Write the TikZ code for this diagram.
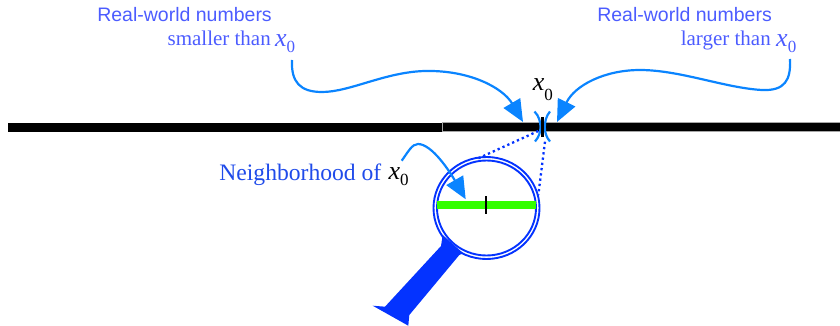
\documentclass[tikz,border=0pt]{standalone}
\usepackage{fontspec}
\setmainfont{Liberation Serif}
\newfontfamily\helv{Liberation Sans}
\usetikzlibrary{arrows.meta}
\definecolor{labelblue}{HTML}{4C5CFF}
\definecolor{nbblue}{HTML}{1F4BEA}
\definecolor{sky}{HTML}{0A84FF}
\definecolor{glass}{HTML}{0433FF}
\definecolor{lime}{HTML}{33FF00}
\newcommand{\xzero}[1]{{\fontsize{26}{26}\selectfont\itshape x}\raisebox{-#1pt}{\fontsize{17}{17}\selectfont 0}}
\tikzset{
  sans/.style={font=\helv\fontsize{19.5}{19.5}\selectfont,text=labelblue,inner sep=0pt,anchor=base east},
  serifl/.style={font=\fontsize{21}{21}\selectfont,text=labelblue,inner sep=0pt,anchor=base east},
  sym/.style={inner sep=0pt,anchor=base west},
  curve/.style={draw=sky,line width=2.2pt,-{Triangle[length=22pt,width=19pt]}},
  dots/.style={draw=glass,line width=2.3pt,dash pattern=on 2.3pt off 3pt},
  ring/.style={draw=glass,line width=1.9pt},
  brk/.style={draw=sky,line width=2.2pt}
}
\begin{document}
\begin{tikzpicture}[x=1pt,y=-1pt]
\useasboundingbox (0,0) rectangle (840,326);
% axis
\fill (8,122.7) rectangle (442,131.7);
\filldraw[draw=gray!70,line width=0.7pt,fill=black] (442,122.7) rectangle (841,131.7);
% x0 marker
\draw[brk] (534.5,111.5) .. controls (539,116) and (540.5,122) .. (540.5,127) .. controls (540.5,132) and (539,137) .. (535,141.5);
\draw[brk] (550,111.5) .. controls (546,116) and (544.8,122) .. (544.8,127) .. controls (544.8,132) and (546,137) .. (550,141.5);
\draw[line width=2.2pt] (542.5,117) -- (542.5,137);
% labels
\node[sans] (ltop) at (272,22) {Real-world numbers};
\node[serifl] (lbot) at (271,45.5) {smaller than};
\node[sym,text=labelblue] (lx) at (275,47) {\xzero{6}};
\node[sans] (rtop) at (772,22) {Real-world numbers};
\node[serifl] (rbot) at (771,45.5) {larger than};
\node[sym,text=labelblue] (rx) at (776,47) {\xzero{6}};
\node[sym] (cx) at (532.7,90.7) {\xzero{10}};
\node[inner sep=0pt,anchor=base east,font=\fontsize{23.6}{23.6}\selectfont,text=nbblue] (nb) at (381.5,180) {Neighborhood of};
\node[sym] (nx) at (388.3,179) {\xzero{6}};
% handle
\fill[glass] (442.7,235) -- (441,246) -- (385,306.7) -- (372.7,305.7) -- (408.3,325.7) -- (409.3,315) -- (459.3,255) -- (463.3,253.3) -- cycle;
% lens
\fill[white] (486.5,208) ellipse (49.5pt and 47.5pt);
\draw[ring] (486.5,208) ellipse (53pt and 51pt);
\draw[ring] (486.5,208) ellipse (49.5pt and 47.5pt);
\draw[line width=8pt,lime] (437,205) -- (536,205);
\draw[line width=2pt] (486,196) -- (486,214);
% dotted rays
\coordinate (a) at (538.3,131);
\coordinate (b) at (478.3,158.3);
\coordinate (c) at (545,141.7);
\coordinate (d) at (538.3,195);
\draw[dots] (a) -- (b);
\draw[dots] (c) -- (d);
% curved arrows
\coordinate (s1) at (292,60);
\coordinate (t1) at (523,122);
\coordinate (s2) at (790,59);
\coordinate (t2) at (557,122);
\coordinate (s3) at (401.7,160.7);
\coordinate (t3) at (465.7,199.3);
\path[curve] (s1) .. controls (291,82) and (300,92) .. (322,92) .. controls (350,92) and (385,72) .. (425,71) .. controls (470,70) and (503,88) .. (t1);
\path[curve] (s2) .. controls (791,80) and (785,91) .. (762,90) .. controls (725,88) and (680,70) .. (640,70) .. controls (605,70) and (575,85) .. (t2);
\path[curve] (s3) .. controls (408,152) and (412,144) .. (418,144) .. controls (432,144) and (450,172) .. (t3);
\end{tikzpicture}
\end{document}
